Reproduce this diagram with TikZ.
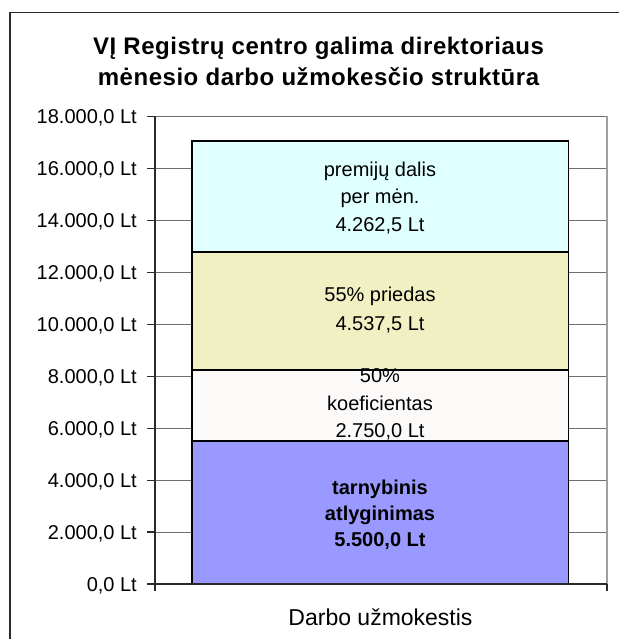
\documentclass[tikz,border=0pt]{standalone}
\usepackage{fontspec}
\setmainfont{Liberation Sans}
\newfontfamily\titlefont[LetterSpace=2.2]{Liberation Sans}
\definecolor{cyanfill}{HTML}{E0FFFF}
\definecolor{yelfill}{HTML}{F0F0C2}
\definecolor{whfill}{HTML}{FCF9F9}
\definecolor{bluefill}{HTML}{9999FF}
\definecolor{gridcol}{HTML}{6E6E6E}
\definecolor{axiscol}{HTML}{2A2A2A}
\begin{document}
\begin{tikzpicture}[x=1pt,y=-1pt,
  axlab/.style={font=\fontsize{20}{24}\selectfont, anchor=base east, inner sep=0pt},
  barlab/.style={font=\fontsize{20}{24}\selectfont, anchor=base, inner sep=0pt},
  boldlab/.style={font=\fontsize{20}{24}\selectfont\bfseries, anchor=base, inner sep=0pt},
  titlelab/.style={font=\titlefont\fontsize{24}{28}\selectfont\bfseries, anchor=base, inner sep=0pt},
  gridln/.style={draw=gridcol, line width=1pt},
  axisln/.style={draw=axiscol, line width=1.2pt},
  segbox/.style={draw=black, line width=1.6pt},
  framebox/.style={draw=axiscol, line width=1.2pt}]
\useasboundingbox (0,0) rectangle (619,639);
\fill[white] (0,0) rectangle (619,639);
% outer chart frame (only left and top visible)
\draw[framebox] (10,639) |- (619,12.7);
% title
\node[titlelab] (title1) at (318.5,55) {VĮ Registrų centro galima direktoriaus};
\node[titlelab] (title2) at (318.5,86) {mėnesio darbo užmokesčio struktūra};
% gridlines, ticks and labels
\foreach \v/\t in {0/0,1/2.000,2/4.000,3/6.000,4/8.000,5/10.000,6/12.000,7/14.000,8/16.000,9/18.000}{
  \pgfmathsetmacro{\yy}{584-\v*51.944}
  \ifnum\v>0
    \draw[gridln] (155,\yy) -- (607,\yy);
  \fi
  \draw[axisln] (147,\yy) -- (155,\yy);
  \node[axlab] (yl\v) at (137,\yy+7.2) {\t,0 Lt};
}
% plot area right border
\draw[draw=gray!75, line width=1.2pt] (607,116.5) -- (607,584);
% stacked bar
\filldraw[segbox, fill=bluefill] (191.7,584) rectangle (568.5,441.15);
\filldraw[segbox, fill=whfill] (191.7,441.15) rectangle (568.5,369.73);
\filldraw[segbox, fill=yelfill] (191.7,369.73) rectangle (568.5,251.88);
\filldraw[segbox, fill=cyanfill] (191.7,251.88) rectangle (568.5,141.17);
% axes
\draw[axisln] (155,116.5) -- (155,591);
\draw[axisln] (155,584) -- (607,584);
\draw[axisln] (607,584) -- (607,591);
% segment labels
\node[barlab] (p1) at (380,176) {premijų dalis};
\node[barlab] (p2) at (380,203.5) {per mėn.};
\node[barlab] (p3) at (380,231) {4.262,5 Lt};
\node[barlab] (q1) at (380,301) {55\% priedas};
\node[barlab] (q2) at (380,330) {4.537,5 Lt};
\node[barlab] (k1) at (380,382) {50\%};
\node[barlab] (k2) at (380,410) {koeficientas};
\node[barlab] (k3) at (380,437.5) {2.750,0 Lt};
\node[boldlab] (t1) at (380,494) {tarnybinis};
\node[boldlab] (t2) at (380,520) {atlyginimas};
\node[boldlab] (t3) at (380,546) {5.500,0 Lt};
% category label
\node[font=\fontsize{23}{27}\selectfont, anchor=base, inner sep=0pt] (cat) at (380.5,625) {Darbo užmokestis};
\end{tikzpicture}
\end{document}
